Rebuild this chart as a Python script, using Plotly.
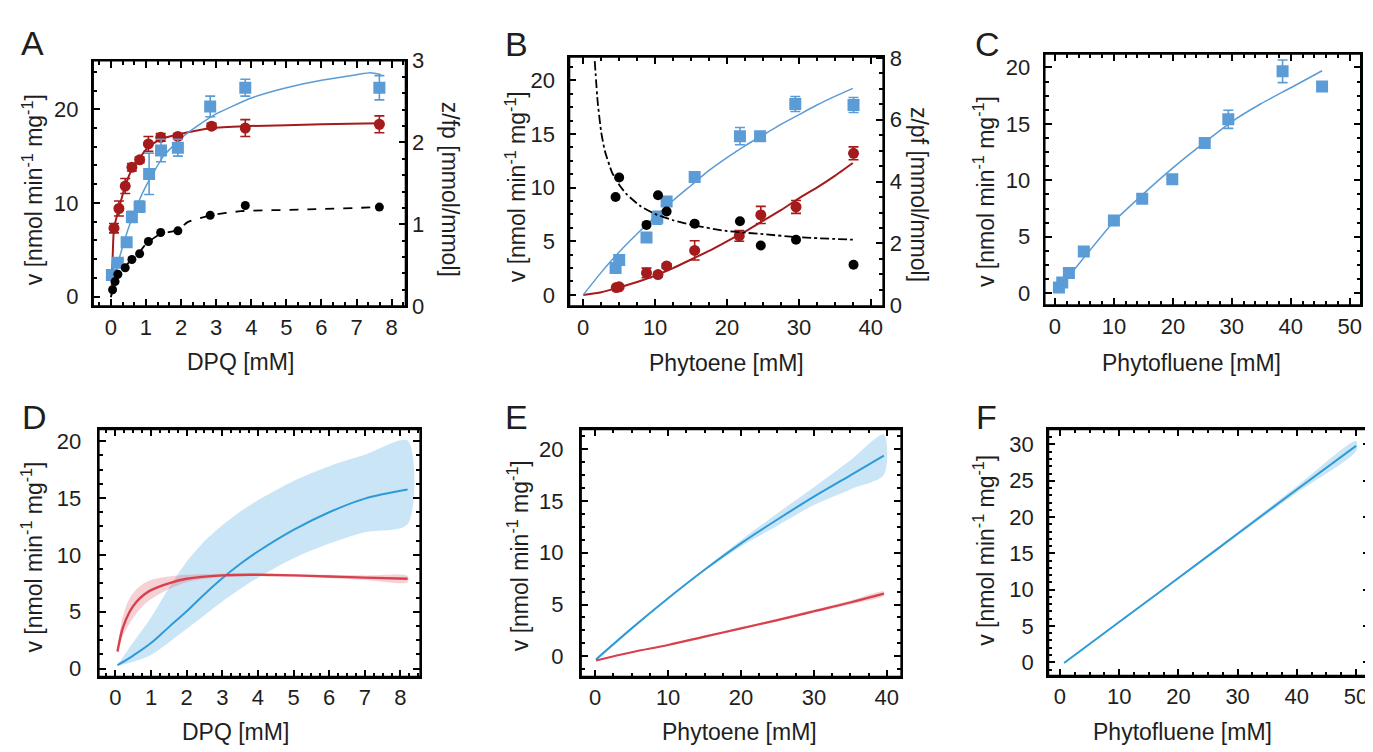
import plotly.graph_objects as go

# ---------------- data ----------------
a_blue_x = [0.03, 0.2, 0.45, 0.6, 0.82, 1.09, 1.43, 1.91, 2.83, 3.83, 7.65]
a_blue_y = [2.3, 3.6, 5.8, 8.5, 9.6, 13.1, 15.6, 15.9, 20.3, 22.3, 22.3]
a_blue_e = [0.2, 0.2, 0.2, 0.6, 0.6, 2.2, 1.2, 0.9, 1.1, 0.9, 1.3]
a_red_x = [0.09, 0.23, 0.41, 0.6, 0.82, 1.07, 1.42, 1.91, 2.87, 3.83, 7.65]
a_red_y = [7.3, 9.4, 11.8, 13.8, 14.6, 16.3, 17.0, 17.1, 18.2, 18.0, 18.4]
a_red_e = [0.5, 0.8, 0.8, 0.4, 0.3, 0.8, 0.4, 0.3, 0.3, 0.9, 0.9]
a_blk_x = [0.05, 0.12, 0.2, 0.41, 0.6, 0.82, 1.07, 1.42, 1.91, 2.83, 3.83, 7.65]
a_blk_y = [0.2, 0.3, 0.39, 0.47, 0.57, 0.64, 0.79, 0.90, 0.92, 1.11, 1.23, 1.21]
a_blue_fit_x = [0.0, 0.2, 0.5, 0.8, 1.0, 1.5, 2.0, 2.5, 3.0, 4.0, 5.0, 6.0, 7.0, 7.4, 7.7]
a_blue_fit_y = [0.0, 3.5, 7.3, 10.2, 11.8, 15.0, 16.9, 18.3, 19.5, 21.2, 22.3, 23.1, 23.7, 23.9, 23.7]
a_red_fit_x = [0.02, 0.05, 0.09, 0.23, 0.41, 0.6, 0.82, 1.07, 1.42, 1.91, 2.87, 3.83, 5.0, 6.0, 7.65]
a_red_fit_y = [0.3, 4.0, 7.3, 9.4, 11.8, 13.6, 14.8, 16.0, 16.8, 17.3, 18.0, 18.2, 18.3, 18.4, 18.5]
a_blk_fit_x = [0.0, 0.1, 0.3, 0.5, 0.8, 1.0, 1.4, 1.9, 2.2, 2.85, 3.7, 5.5, 7.7]
a_blk_fit_y = [0.11, 0.25, 0.42, 0.53, 0.65, 0.76, 0.88, 0.93, 1.03, 1.11, 1.16, 1.18, 1.21]

b_blue_x = [4.5, 5.0, 8.8, 10.3, 11.6, 15.5, 21.8, 24.6, 29.5, 37.6]
b_blue_y = [2.5, 3.25, 5.35, 7.2, 8.7, 11.0, 14.8, 14.8, 17.8, 17.7]
b_blue_e = [0.3, 0.3, 0.2, 0.6, 0.3, 0.3, 0.8, 0.3, 0.7, 0.7]
b_red_x = [4.6, 5.0, 8.8, 10.4, 11.6, 15.5, 21.7, 24.7, 29.6, 37.6]
b_red_y = [0.69, 0.75, 2.05, 1.9, 2.7, 4.15, 5.5, 7.45, 8.2, 13.2]
b_red_e = [0.1, 0.1, 0.45, 0.2, 0.2, 0.9, 0.5, 0.8, 0.6, 0.6]
b_blk_x = [4.5, 5.0, 8.8, 10.4, 11.6, 15.5, 21.8, 24.7, 29.6, 37.6]
b_blk_y = [3.5, 4.13, 2.6, 3.56, 3.03, 2.64, 2.72, 1.93, 2.12, 1.31]
b_fit_x = [0, 2.5, 5, 7.5, 10, 12.5, 15, 17.5, 20, 22.5, 25, 27.5, 30, 32.5, 35, 37.5]
b_blue_fit_y = [0, 2.1, 4.0, 5.7, 7.3, 8.8, 10.2, 11.6, 12.8, 13.9, 14.9, 15.9, 16.8, 17.7, 18.5, 19.25]
b_red_fit_y = [0, 0.25, 0.7, 1.2, 1.8, 2.5, 3.3, 4.1, 5.0, 5.9, 6.9, 7.9, 9.0, 10.0, 11.1, 12.3]
b_blk_fit_x = [1.6, 2.0, 2.5, 3, 4, 5, 6, 8, 10, 12.5, 15, 20, 25, 30, 37.5]
b_blk_fit_y = [7.9, 6.6, 5.6, 5.0, 4.3, 3.9, 3.6, 3.2, 2.95, 2.75, 2.6, 2.4, 2.3, 2.2, 2.12]

c_x = [0.68, 1.24, 2.37, 4.9, 10.0, 14.8, 19.9, 25.4, 29.4, 38.6, 45.3]
c_y = [0.5, 0.95, 1.8, 3.7, 6.45, 8.37, 10.1, 13.3, 15.4, 19.65, 18.3]
c_e = [0.2, 0.2, 0.2, 0.2, 0.2, 0.2, 0.2, 0.3, 0.8, 1.0, 0.2]
c_fit_x = [0.7, 2.5, 5, 10, 15, 20, 25, 30, 35, 40, 45.3]
c_fit_y = [0.4, 1.6, 3.2, 6.35, 8.8, 11.1, 13.2, 15.2, 16.8, 18.2, 19.7]

d_x = [0.06, 0.5, 1, 1.5, 2, 2.5, 3, 3.5, 4, 5, 6, 7, 8.2]
d_blue = [0.3, 1.15, 2.25, 3.65, 5.05, 6.55, 7.95, 9.2, 10.3, 12.2, 13.75, 14.95, 15.75]
d_blue_hi = [0.35, 2.3, 4.5, 7.1, 9.4, 11.2, 12.6, 13.8, 14.8, 16.5, 17.8, 18.8, 20.05]
d_blue_lo = [0.25, 0.6, 1.2, 2.3, 3.5, 4.7, 5.9, 7.0, 8.0, 9.7, 11.0, 12.0, 12.7]
d_red_x = [0.06, 0.2, 0.4, 0.6, 0.8, 1.0, 1.5, 2, 3, 4, 5, 6, 7, 8.2]
d_red = [1.5, 3.5, 5.0, 5.9, 6.5, 6.9, 7.5, 7.9, 8.2, 8.25, 8.2, 8.1, 8.0, 7.9]
d_red_hi = [1.7, 4.5, 6.2, 7.0, 7.5, 7.8, 8.1, 8.25, 8.35, 8.35, 8.3, 8.25, 8.2, 8.15]
d_red_lo = [1.3, 2.8, 4.0, 4.9, 5.6, 6.1, 7.0, 7.6, 8.05, 8.15, 8.1, 7.95, 7.8, 7.6]

e_x = [0.1, 5, 10, 15, 20, 25, 30, 35, 39.6]
e_blue = [-0.3, 2.7, 5.6, 8.35, 10.9, 13.2, 15.4, 17.45, 19.35]
e_blue_hi = [-0.28, 2.72, 5.65, 8.45, 11.2, 13.8, 16.3, 18.9, 21.4]
e_blue_lo = [-0.32, 2.68, 5.55, 8.25, 10.6, 12.6, 14.6, 16.1, 17.5]
e_red = [-0.4, 0.4, 1.1, 1.9, 2.7, 3.5, 4.35, 5.2, 6.05]
e_red_hi = [-0.35, 0.45, 1.17, 1.98, 2.8, 3.62, 4.5, 5.37, 6.25]
e_red_lo = [-0.45, 0.35, 1.03, 1.82, 2.6, 3.38, 4.2, 5.03, 5.85]

f_x = [0.7, 10, 20, 30, 40, 50]
f_blue = [-0.1, 5.55, 11.6, 17.7, 23.8, 29.8]
f_blue_hi = [-0.05, 5.65, 11.75, 17.95, 24.25, 30.5]
f_blue_lo = [-0.15, 5.45, 11.45, 17.45, 23.35, 29.1]

# ---------------- style ----------------
FONT = "Liberation Sans, Arial, sans-serif"
TXT = "#1e1e1e"
BLUE_M = "#5b9bd6"
RED_M = "#a51b1b"
BLUE_L = "#2e9ad8"
BLUE_F = "rgba(120,190,232,0.40)"
RED_L = "#d8404b"
RED_F = "rgba(225,110,120,0.32)"
W, H = 1373, 752

fig = go.Figure()

def pts(x, y, e, ax, color, symbol, size):
    fig.add_trace(go.Scatter(
        x=x, y=y, mode="markers", xaxis=ax[0], yaxis=ax[1],
        marker=dict(color=color, symbol=symbol, size=size, line=dict(width=0)),
        error_y=None if e is None else dict(type="data", array=e, color=color, thickness=1.6, width=5),
        hoverinfo="skip"))

def line(x, y, ax, color, width=1.6, dash="solid", smooth=0.5):
    fig.add_trace(go.Scatter(
        x=x, y=y, mode="lines", xaxis=ax[0], yaxis=ax[1],
        line=dict(color=color, width=width, dash=dash, shape="spline", smoothing=smooth),
        hoverinfo="skip"))

def band(x, lo, hi, ax, color):
    fig.add_trace(go.Scatter(
        x=list(x) + list(x)[::-1], y=list(hi) + list(lo)[::-1],
        mode="lines", fill="toself", fillcolor=color, line=dict(width=0, shape="spline", smoothing=0.8),
        xaxis=ax[0], yaxis=ax[1], hoverinfo="skip"))

line(a_red_fit_x, a_red_fit_y, ("x", "y"), RED_M, 2.0)
line(a_blue_fit_x, a_blue_fit_y, ("x", "y"), BLUE_M, 1.5)
pts(a_red_x, a_red_y, a_red_e, ("x", "y"), RED_M, "circle", 11)
pts(a_blue_x, a_blue_y, a_blue_e, ("x", "y"), BLUE_M, "square", 12)
line(a_blk_fit_x, a_blk_fit_y, ("x", "y7"), "#000000", 1.8, "dash")
pts(a_blk_x, a_blk_y, None, ("x", "y7"), "#000000", "circle", 9)
line(b_fit_x, b_red_fit_y, ("x2", "y2"), RED_M, 2.0)
line(b_fit_x, b_blue_fit_y, ("x2", "y2"), BLUE_M, 1.5)
pts(b_red_x, b_red_y, b_red_e, ("x2", "y2"), RED_M, "circle", 11)
pts(b_blue_x, b_blue_y, b_blue_e, ("x2", "y2"), BLUE_M, "square", 12)
line(b_blk_fit_x, b_blk_fit_y, ("x2", "y8"), "#000000", 1.8, "dashdot")
pts(b_blk_x, b_blk_y, None, ("x2", "y8"), "#000000", "circle", 10)
line(c_fit_x, c_fit_y, ("x3", "y3"), BLUE_M, 1.5)
pts(c_x, c_y, c_e, ("x3", "y3"), BLUE_M, "square", 12)
band(d_x, d_blue_lo, d_blue_hi, ("x4", "y4"), BLUE_F)
band(d_red_x, d_red_lo, d_red_hi, ("x4", "y4"), RED_F)
line(d_x, d_blue, ("x4", "y4"), BLUE_L, 2.0, smooth=1.0)
line(d_red_x, d_red, ("x4", "y4"), RED_L, 2.4, smooth=1.0)
band(e_x, e_blue_lo, e_blue_hi, ("x5", "y5"), BLUE_F)
band(e_x, e_red_lo, e_red_hi, ("x5", "y5"), RED_F)
line(e_x, e_blue, ("x5", "y5"), BLUE_L, 2.0, smooth=1.0)
line(e_x, e_red, ("x5", "y5"), RED_L, 2.2, smooth=1.0)
band(f_x, f_blue_lo, f_blue_hi, ("x6", "y6"), BLUE_F)
line(f_x, f_blue, ("x6", "y6"), BLUE_L, 2.0, smooth=1.0)

# ---------------- axes ----------------
def px_x(a, b):
    return [a / W, b / W]

def px_y(top, bot):
    return [1 - bot / H, 1 - top / H]

tickfont = dict(family=FONT, size=22, color=TXT)

def ax(domain, rng, dtick, mdtick, anchor, mirror="ticks", standoff=8, **kw):
    d = dict(range=rng, dtick=dtick, tick0=0, anchor=anchor,
             showline=True, linewidth=2, linecolor="black", mirror=mirror,
             ticks="inside", ticklen=7, tickwidth=1.5, tickcolor="black",
             minor=dict(ticks="inside", ticklen=4, dtick=mdtick),
             showgrid=False, zeroline=False, tickfont=tickfont, ticklabelstandoff=standoff)
    if domain is not None:
        d["domain"] = domain
    d.update(kw)
    return d

XS = 0  # x tick label standoff
layout = dict(
    width=W, height=H, margin=dict(l=0, r=0, t=0, b=0),
    paper_bgcolor="white", plot_bgcolor="white", showlegend=False,
    xaxis=ax(px_x(85, 398), [-0.51, 8.4], 1, 1 / 3, "y", standoff=XS),
    yaxis=ax(px_y(42, 296), [-1.03, 25.2], 10, 2, "x", mirror=False),
    yaxis7=ax(None, [0, 3], 1, 0.2, "x", mirror=False, standoff=0, overlaying="y", side="right"),
    xaxis2=ax(px_x(561.7, 876), [-1.94, 41.75], 10, 2.5, "y2", standoff=XS),
    yaxis2=ax(px_y(38, 296), [-1.05, 22.2], 5, 1.25, "x2", mirror=False),
    yaxis8=ax(None, [-0.03, 8.04], 2, 0.5, "x2", mirror=False, standoff=0, overlaying="y2", side="right"),
    xaxis3=ax(px_x(1037.3, 1354), [-1.76, 51.9], 10, 2, "y3", standoff=XS),
    yaxis3=ax(px_y(35, 295), [-1.06, 21.2], 5, 1.25, "x3"),
    xaxis4=ax(px_x(90.7, 412.7), [-0.47, 8.56], 1, 0.25, "y4", standoff=XS),
    yaxis4=ax(px_y(423.3, 679.3), [-0.71, 21.05], 5, 1.25, "x4", standoff=11),
    xaxis5=ax(px_x(573.3, 894), [-1.97, 42.0], 10, 2.5, "y5", standoff=XS),
    yaxis5=ax(px_y(423.3, 679.3), [-1.96, 21.9], 5, 1.25, "x5", standoff=11),
    xaxis6=ax(px_x(1041, 1362.7), [-1.97, 52.3], 10, 2.5, "y6", standoff=XS),
    yaxis6=ax(px_y(423.3, 678.3), [-1.86, 32.1], 5, 1, "x6"),
)
fig.update_layout(**layout)

# frames drawn as shapes on each plot area (robust box outline)
for xa, ya in [("x", "y"), ("x2", "y2"), ("x3", "y3"), ("x4", "y4"), ("x5", "y5"), ("x6", "y6")]:
    fig.add_shape(type="rect", xref=xa + " domain", yref=ya + " domain", x0=0, x1=1, y0=0, y1=1,
                  line=dict(color="black", width=2), fillcolor="rgba(0,0,0,0)", layer="above")

def ann(text, x, y, size=20, angle=0):
    fig.add_annotation(text=text, x=x / W, y=1 - y / H, xref="paper", yref="paper",
                       showarrow=False, textangle=angle, xanchor="center", yanchor="middle",
                       font=dict(family=FONT, size=size, color=TXT))

vlabel = "v [nmol min<sup>-1</sup> mg<sup>-1</sup>]"
ann("DPQ [mM]", 233, 354, 23)
ann("Phytoene [mM]", 719, 355, 23)
ann("Phytofluene [mM]", 1184, 355, 23)
ann("DPQ [mM]", 228, 737, 23)
ann("Phytoene [mM]", 731.7, 737, 23)
ann("Phytofluene [mM]", 1175.7, 737, 23)
ann(vlabel, 25, 175, 23, -90)
ann(vlabel, 508.3, 172, 23, -90)
ann(vlabel, 976.7, 177, 23, -90)
ann(vlabel, 24, 555, 23, -90)
ann(vlabel, 510, 554, 23, -90)
ann(vlabel, 976.7, 548, 23, -90)
ann("z/fp [mmol/mmol]", 441.7, 175, 23, 90)
ann("z/pf [mmol/mmol]", 911.7, 180, 23, 90)

for lab, x, y in [("A", 25, 24), ("B", 509, 25), ("C", 980, 25),
                  ("D", 27, 411), ("E", 509, 411), ("F", 979, 411)]:
    ann(lab, x, y, 34)

fig.write_html("out.html")
